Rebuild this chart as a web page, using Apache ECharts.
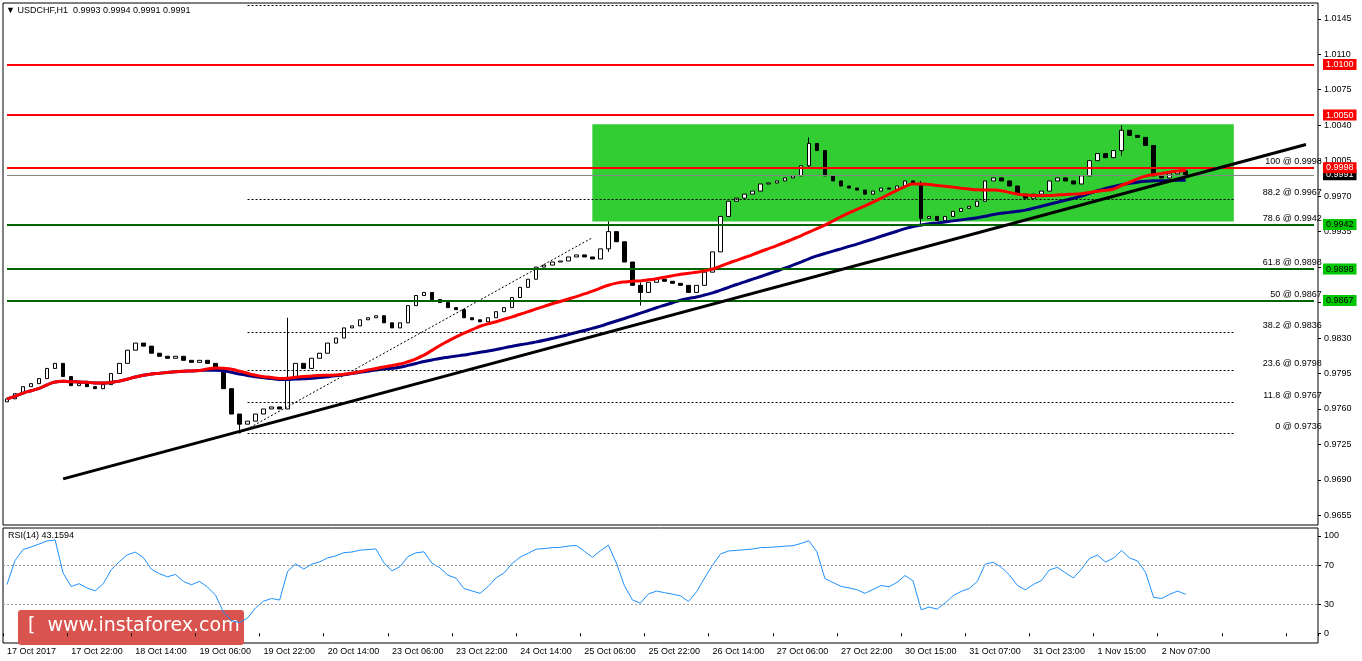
<!DOCTYPE html>
<html>
<head>
<meta charset="utf-8">
<script src="https://cdn.jsdelivr.net/npm/echarts@6/dist/echarts.min.js"></script>
<style>html,body{margin:0;padding:0;background:#fff}#chart{width:1362px;height:661px}</style>
</head>
<body>
<div id="chart"></div>
<script>
// 2-hour closes, in pips (x 0.0001)
var closes = [9770,9775,9782,9785,9790,9800,9805,9792,9783,9785,9782,9780,9784,9795,9805,9818,9825,9822,9815,9812,
  9810,9812,9808,9806,9808,9805,9800,9780,9755,9745,9748,9755,9760,9762,9760,9790,9805,9800,9810,9815,
  9825,9830,9840,9842,9848,9850,9852,9845,9840,9845,9862,9872,9875,9868,9865,9860,9858,9850,9848,9846,
  9850,9856,9860,9870,9880,9888,9900,9902,9905,9906,9910,9912,9910,9908,9918,9935,9925,9905,9882,9875,
  9885,9888,9886,9884,9882,9875,9882,9895,9915,9950,9965,9968,9972,9975,9982,9983,9985,9988,9990,10000,
  10022,10015,9990,9985,9980,9978,9976,9972,9975,9978,9977,9980,9985,9982,9948,9950,9946,9950,9955,9958,
  9960,9965,9985,9988,9985,9980,9972,9968,9972,9975,9985,9988,9985,9982,9990,10005,10012,10008,10015,10035,
  10030,10028,10020,9990,9988,9992,9995,9991];
// visible spikes: [bar, high, low]
var spikes = [[29, 9752, 9736], [35, 9850, 9760], [75, 9945, 9915], [79, 9885, 9862], [100, 10028, 9998], [114, 9985, 9940], [139, 10040, 10010]];
var timeLabels = ['17 Oct 2017','17 Oct 22:00','18 Oct 14:00','19 Oct 06:00','19 Oct 22:00','20 Oct 14:00','23 Oct 06:00',
  '23 Oct 22:00','24 Oct 14:00','25 Oct 06:00','25 Oct 22:00','26 Oct 14:00','27 Oct 06:00','27 Oct 22:00',
  '30 Oct 15:00','31 Oct 07:00','31 Oct 23:00','1 Nov 15:00','2 Nov 07:00'];
var redLevels = [1.0100, 1.0050, 0.9998];
var greenLevels = [0.9942, 0.9898, 0.9867];
var fibLevels = [[100, 0.9998], [88.2, 0.9967], [78.6, 0.9942], [61.8, 0.9898], [50, 0.9867], [38.2, 0.9836], [23.6, 0.9798], [11.8, 0.9767], [0, 0.9736]];
var priceTicks = [1.0145,1.0110,1.0075,1.0040,1.0005,0.9970,0.9935,0.9900,0.9865,0.9830,0.9795,0.9760,0.9725,0.9690,0.9655];
var trend = [[7, 0.9691], [162, 1.0021]];
var fibTrend = [[29, 0.9736], [73, 0.9929]];
var boxRange = [[73, 1.0041], [153, 0.9945]];

var nBars = 164;
var cats = [];
for (var i = 0; i < nBars; i++) cats.push(i % 8 === 0 ? timeLabels[i / 8] || '' : '');

var ohlc = [];
for (var i = 0; i < closes.length; i++) {
  var c = closes[i] / 10000, o = (i ? closes[i - 1] : closes[0] - 3) / 10000;
  var hi = Math.max(o, c), lo = Math.min(o, c);
  spikes.forEach(function (s) { if (s[0] === i) { hi = Math.max(hi, s[1] / 10000); lo = Math.min(lo, s[2] / 10000); } });
  ohlc.push([o, c, lo, hi]);
}
function sma(n) {
  return closes.map(function (v, i) {
    var s = 0, k = 0;
    for (var j = Math.max(0, i - n + 1); j <= i; j++) { s += closes[j]; k++; }
    return +(s / k / 10000).toFixed(5);
  });
}
function rsi(n) {
  var out = [], g = 0, l = 0;
  for (var i = 0; i < closes.length; i++) {
    var d = i ? closes[i] - closes[i - 1] : 0;
    var up = Math.max(d, 0), dn = Math.max(-d, 0);
    if (i === 0) { g = 0.5; l = 0.5; }
    g = (g * (n - 1) + up) / n; l = (l * (n - 1) + dn) / n;
    out.push(+(100 - 100 / (1 + g / l)).toFixed(2));
  }
  return out;
}

function level(v, color, bg, fg, w) {
  return [{ coord: [0, v], lineStyle: { color: color, width: w, type: 'solid' },
    label: { show: true, position: 'end', formatter: v.toFixed(4), color: fg, backgroundColor: bg, padding: [1, 3], fontSize: 9, distance: 9 } },
    { coord: [nBars - 1, v] }];
}
var levelLines = [level(0.9991, '#888', '#000', '#fff', 1)];
redLevels.forEach(function (v) { levelLines.push(level(v, '#ff0000', '#ff0000', '#fff', 2)); });
greenLevels.forEach(function (v) { levelLines.push(level(v, '#006400', '#00c800', '#000', 2)); });
levelLines.push([{ coord: trend[0], lineStyle: { color: '#000', width: 3, type: 'solid' }, label: { show: false } }, { coord: trend[1] }]);

var fibLines = fibLevels.map(function (f) {
  return [{ coord: [30, f[1]], label: { show: true, position: 'insideEndTop', formatter: f[0] + ' @ ' + f[1].toFixed(4), color: '#000', fontSize: 9, distance: [-88, 2] } },
    { coord: [153, f[1]] }];
});
fibLines.push([{ coord: [30, 1.0158], label: { show: false } }, { coord: [163, 1.0158] }]);
fibLines.push([{ coord: fibTrend[0], label: { show: false } }, { coord: fibTrend[1] }]);

var chart = echarts.init(document.getElementById('chart'));
chart.setOption({
  animation: false,
  textStyle: { fontFamily: 'Arial, Liberation Sans, sans-serif' },
  grid: [
    { left: 3, right: 44, top: 3, height: 522, show: true, borderColor: '#000', borderWidth: 1 },
    { left: 3, right: 44, top: 528, height: 115, show: true, borderColor: '#000', borderWidth: 1 }
  ],
  xAxis: [
    { type: 'category', data: cats, gridIndex: 0, boundaryGap: true, axisLine: { show: false }, axisTick: { show: false }, axisLabel: { show: false }, splitLine: { show: false } },
    { type: 'category', data: cats, gridIndex: 1, boundaryGap: true, axisLine: { show: false },
      axisTick: { show: true, interval: 7, length: 3, lineStyle: { color: '#000' } },
      axisLabel: { interval: 7, align: 'left', color: '#000', fontSize: 9, margin: 4, showMaxLabel: false }, splitLine: { show: false } }
  ],
  yAxis: [
    { type: 'value', gridIndex: 0, position: 'right', min: 0.96455, max: 1.01606, scale: true,
      axisLine: { show: false }, splitLine: { show: false },
      axisTick: { show: true, customValues: priceTicks, length: 3, lineStyle: { color: '#000' } },
      axisLabel: { customValues: priceTicks, formatter: function (v) { return v.toFixed(4); }, color: '#000', fontSize: 9, margin: 6 } },
    { type: 'value', gridIndex: 1, position: 'right', min: -10, max: 108,
      axisLine: { show: false }, splitLine: { show: false },
      axisTick: { show: true, customValues: [0, 30, 70, 100], length: 3, lineStyle: { color: '#000' } },
      axisLabel: { customValues: [0, 30, 70, 100], color: '#000', fontSize: 9, margin: 6 } }
  ],
  series: [
    { type: 'candlestick', xAxisIndex: 0, yAxisIndex: 0, data: ohlc, barWidth: 4,
      itemStyle: { color: '#fff', color0: '#000', borderColor: '#000', borderColor0: '#000', borderWidth: 1 },
      markArea: { silent: true, itemStyle: { color: '#32cd32', opacity: 1 },
        data: [[{ coord: boxRange[0] }, { coord: boxRange[1] }]] },
      markLine: { silent: true, symbol: 'none', lineStyle: { color: '#000', width: 1, type: [2, 2] }, data: fibLines }, z: 3 },
    { type: 'line', xAxisIndex: 0, yAxisIndex: 0, data: sma(50), showSymbol: false, smooth: true, lineStyle: { color: '#000080', width: 3 }, z: 4 },
    { type: 'line', xAxisIndex: 0, yAxisIndex: 0, data: sma(25), showSymbol: false, smooth: true, lineStyle: { color: '#ff0000', width: 3 }, z: 5,
      markLine: { silent: true, symbol: 'none', data: levelLines } },
    { type: 'line', xAxisIndex: 1, yAxisIndex: 1, data: rsi(7), showSymbol: false, lineStyle: { color: '#1e90ff', width: 1 },
      markLine: { silent: true, symbol: 'none', label: { show: false }, lineStyle: { color: '#999', type: [2, 2], width: 1 },
        data: [{ yAxis: 70 }, { yAxis: 30 }] } }
  ],
  graphic: [
    { type: 'text', left: 6, top: 6, style: { text: '\u25BC USDCHF,H1  0.9993 0.9994 0.9991 0.9991', fill: '#000', fontSize: 9 } },
    { type: 'text', left: 8, top: 531, style: { text: 'RSI(14) 43.1594', fill: '#000', fontSize: 9 } },
    { type: 'rect', left: 18, top: 610, shape: { width: 226, height: 35, r: 3 }, style: { fill: '#d9534f' } },
    { type: 'text', left: 28, top: 617, style: { text: '[  www.instaforex.com  ]', fill: '#fff', fontSize: 19, fontFamily: 'DejaVu Sans' } }
  ]
});
</script>
</body>
</html>
